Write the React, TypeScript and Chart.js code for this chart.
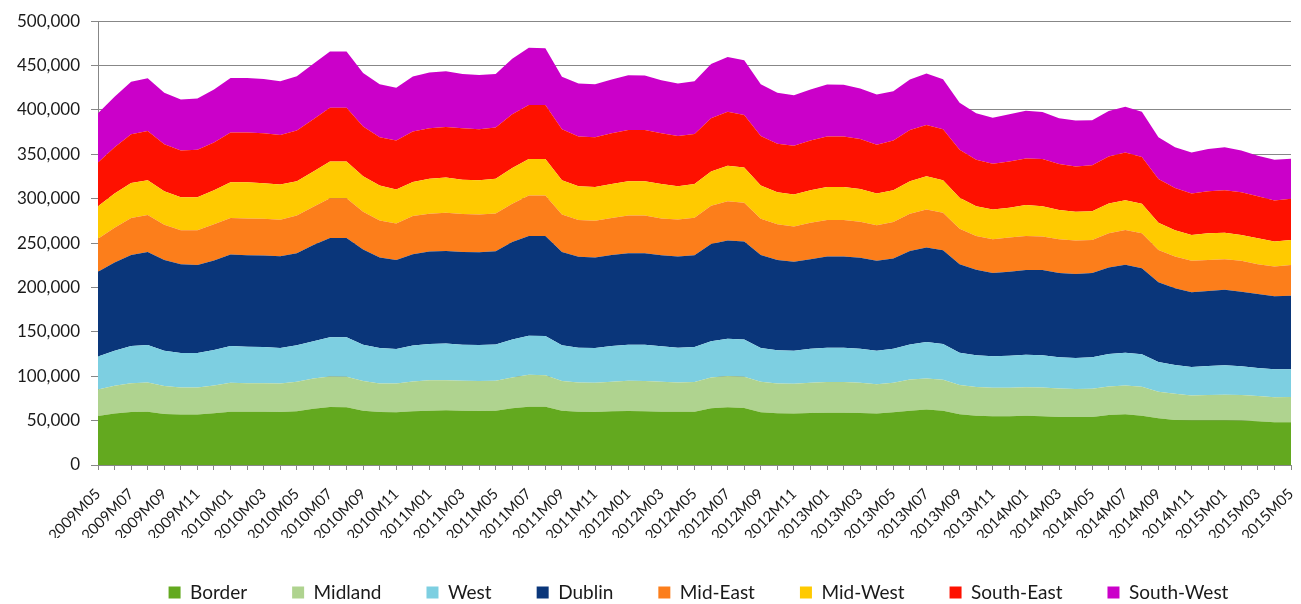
import React, { useEffect, useRef } from "react";
import { Chart, registerables } from "chart.js";

Chart.register(...registerables);

const months = [
  "2009M05", "2009M06", "2009M07", "2009M08", "2009M09", "2009M10", "2009M11", "2009M12",
  "2010M01", "2010M02", "2010M03", "2010M04", "2010M05", "2010M06", "2010M07", "2010M08", "2010M09", "2010M10", "2010M11", "2010M12",
  "2011M01", "2011M02", "2011M03", "2011M04", "2011M05", "2011M06", "2011M07", "2011M08", "2011M09", "2011M10", "2011M11", "2011M12",
  "2012M01", "2012M02", "2012M03", "2012M04", "2012M05", "2012M06", "2012M07", "2012M08", "2012M09", "2012M10", "2012M11", "2012M12",
  "2013M01", "2013M02", "2013M03", "2013M04", "2013M05", "2013M06", "2013M07", "2013M08", "2013M09", "2013M10", "2013M11", "2013M12",
  "2014M01", "2014M02", "2014M03", "2014M04", "2014M05", "2014M06", "2014M07", "2014M08", "2014M09", "2014M10", "2014M11", "2014M12",
  "2015M01", "2015M02", "2015M03", "2015M04", "2015M05",
];

const border = [55300, 57900, 59700, 60100, 57500, 56800, 56800, 58300, 60100, 60100, 60100, 59700, 60500, 63500, 65300, 65000, 61200, 59700, 59400, 60600, 61200, 61600, 61200, 60900, 61200, 63900, 65700, 65700, 61200, 60100, 59700, 60500, 60900, 60500, 60100, 60100, 60100, 63900, 65000, 64300, 59400, 58300, 57900, 58600, 59000, 59000, 58600, 57900, 59400, 61200, 62400, 61200, 57100, 55600, 54900, 54900, 55400, 54900, 54100, 54100, 54100, 56400, 57100, 55600, 52700, 50800, 50400, 50400, 50400, 50000, 49300, 48200, 48200];

const midland = [29800, 31300, 32500, 32900, 31400, 30600, 30600, 31300, 32500, 32100, 32100, 32200, 33200, 34000, 34400, 34300, 33300, 32200, 32500, 33500, 34400, 34000, 33600, 33600, 33600, 34700, 35900, 35500, 33300, 32900, 32900, 33200, 33900, 34000, 33600, 32900, 33300, 34700, 35400, 35000, 34300, 33600, 33600, 34000, 34400, 34400, 34000, 33200, 33200, 35100, 35100, 34800, 32900, 32200, 32100, 32100, 32200, 32500, 32200, 31400, 31800, 32100, 32500, 32500, 29800, 29500, 28000, 28400, 28800, 28800, 28400, 28000, 28300];

const west = [37000, 39600, 41900, 42200, 39900, 38800, 38800, 40000, 41500, 41100, 40700, 39900, 41100, 41800, 44100, 44500, 41000, 39900, 38800, 40500, 40700, 41400, 40700, 40700, 41100, 42900, 44000, 44100, 40300, 39200, 39200, 40400, 40700, 41000, 40000, 39200, 39500, 40900, 41900, 42200, 38100, 37300, 37300, 38500, 38800, 38800, 38500, 37700, 38500, 39600, 41000, 40300, 36600, 35800, 35500, 36000, 36700, 36200, 35100, 35100, 35500, 36600, 37000, 36600, 33600, 32500, 32100, 32800, 33200, 32500, 31700, 31700, 31400];

const dublin = [95600, 99400, 102600, 104900, 102300, 100100, 99000, 100800, 103000, 103100, 103100, 103400, 103800, 108600, 112000, 112000, 107200, 102000, 100400, 102900, 104200, 104200, 104600, 104500, 105000, 109800, 112400, 112700, 105300, 102300, 102000, 102600, 103100, 103100, 102700, 102700, 103500, 109500, 110700, 110200, 104900, 101900, 100100, 100800, 102700, 102700, 102300, 101200, 101500, 105300, 106500, 105700, 99700, 96300, 93700, 94700, 95300, 96000, 94800, 94500, 94800, 97500, 99000, 97100, 89700, 86200, 84000, 84400, 85100, 84000, 83300, 82200, 82900];

const midEast = [37300, 39200, 41500, 41500, 39600, 38100, 39200, 40700, 41100, 41400, 41500, 41100, 42600, 43000, 44800, 44800, 42600, 41800, 41100, 42900, 42500, 43000, 42600, 42600, 42500, 43000, 45600, 45600, 42200, 41400, 41400, 41500, 42600, 42600, 41400, 41800, 42200, 43200, 44200, 43700, 40800, 40000, 39900, 41000, 41000, 41000, 40700, 40000, 41100, 41800, 42900, 42200, 39900, 38100, 38100, 38500, 38400, 37700, 38100, 37700, 37300, 38400, 39100, 39200, 36500, 35900, 35500, 35100, 34400, 34700, 33600, 33600, 34400];

const midWest = [36600, 38400, 39600, 39200, 37700, 37300, 37300, 38500, 40300, 40700, 39900, 39600, 38400, 39900, 41400, 41400, 39900, 39200, 38100, 38500, 39600, 39600, 38800, 38500, 39200, 40300, 41100, 41100, 38500, 38100, 38100, 38500, 38400, 38400, 38900, 37300, 38100, 38600, 40000, 39900, 37300, 36200, 35900, 36700, 37400, 37400, 36900, 35800, 35900, 36600, 37300, 36600, 34800, 33600, 33600, 33600, 34800, 34300, 32900, 32500, 32500, 33600, 33700, 33300, 30600, 29500, 29100, 29900, 29900, 29100, 29100, 28000, 28300];

const southEast = [49300, 52300, 54900, 55600, 53100, 52700, 53400, 53700, 56000, 56000, 56400, 56000, 57200, 58700, 60500, 60500, 56100, 54500, 55300, 56800, 56800, 57100, 57900, 57500, 57500, 60500, 60800, 60800, 57500, 56100, 56000, 57100, 57900, 57900, 57100, 56800, 56300, 59800, 60700, 59000, 56000, 54500, 54900, 56000, 56800, 56800, 56400, 54900, 56000, 57900, 57900, 57500, 54100, 52300, 51500, 52200, 52600, 53100, 51900, 51100, 51600, 53000, 53700, 52600, 49400, 47800, 46700, 47400, 47800, 48200, 47400, 46200, 46400];

const southWest = [55300, 56800, 59000, 59400, 57800, 57500, 57900, 59800, 61600, 61600, 61200, 60500, 61200, 62700, 63500, 63500, 60400, 59700, 59300, 61900, 62700, 62700, 61200, 61200, 60500, 62700, 64600, 63900, 59000, 59700, 59800, 60500, 61600, 61200, 59700, 59000, 59400, 61200, 61800, 61700, 58300, 57500, 57100, 57500, 58600, 58200, 56800, 56800, 55600, 56800, 57900, 56300, 53000, 52300, 51900, 53100, 53800, 53000, 51500, 51600, 50700, 51200, 51600, 51200, 47000, 45900, 46300, 47500, 48500, 47100, 45600, 46000, 45100];

const seriesNames = ["Border", "Midland", "West", "Dublin", "Mid-East", "Mid-West", "South-East", "South-West"];
const seriesColors = ["#63A91F", "#AFD38F", "#7DCFE1", "#0A367A", "#FC7E1B", "#FFCA00", "#FE1100", "#CB00C9"];

const yMax = 500000;
const yStep = 50000;

const TEXT = "#1a1a1a";
const GRID = "#878787";
const FONT = "Lato";

const legendShift = {
  id: "legendShift",
  afterLayout(chart: any) {
    const l = chart.legend;
    if (l) {
      l.left += 4;
      l.right += 4;
    }
  },
};

export default function App() {
  const ref = useRef<HTMLCanvasElement>(null);

  useEffect(() => {
    const canvas = ref.current;
    if (!canvas) return;
    const values = [border, midland, west, dublin, midEast, midWest, southEast, southWest];
    const chart = new Chart(canvas, {
      type: "line",
      data: {
        labels: months,
        datasets: values.map((v, i) => ({
          label: seriesNames[i],
          data: v,
          backgroundColor: seriesColors[i],
          borderColor: seriesColors[i],
          borderWidth: 0,
          pointRadius: 0,
          pointHoverRadius: 0,
          tension: 0,
          fill: i === 0 ? "origin" : "-1",
        })),
      },
      plugins: [legendShift],
      options: {
        responsive: false,
        animation: false,
        events: [],
        layout: { padding: { top: 17.3, right: 10, left: 0, bottom: 0 } },
        plugins: {
          legend: {
            position: "bottom",
            fullSize: false,
            labels: {
              boxWidth: 12,
              boxHeight: 12,
              padding: 45,
              color: TEXT,
              font: { family: FONT, size: 19 },
            },
          },
          tooltip: { enabled: false },
        },
        scales: {
          x: {
            offset: false,
            grid: { display: true, drawOnChartArea: false, drawTicks: true, tickLength: 5, color: GRID },
            border: { display: true, color: GRID },
            ticks: {
              autoSkip: false,
              maxRotation: 45,
              minRotation: 45,
              padding: 15,
              color: TEXT,
              font: { family: FONT, size: 15 },
              callback: (_v: any, i: number) => (i % 2 === 0 ? months[i] : ""),
            },
            afterFit: (s: any) => {
              s.height = 73;
              s.paddingLeft = 0;
              s.paddingRight = 0;
            },
          },
          y: {
            stacked: true,
            min: 0,
            max: yMax,
            grid: { color: GRID, tickLength: 7 },
            border: { display: true, color: GRID },
            ticks: {
              stepSize: yStep,
              padding: 11,
              color: TEXT,
              font: { family: FONT, size: 17 },
              callback: (v: any) => Number(v).toLocaleString("en-US"),
            },
            afterFit: (s: any) => {
              s.width = 98;
            },
          },
        },
      },
    });
    return () => chart.destroy();
  }, []);

  return (
    <div
      style={{
        position: "fixed",
        left: 0,
        top: 0,
        width: 1301,
        height: 604,
        overflow: "hidden",
        background: "#ffffff",
      }}
    >
      <canvas ref={ref} width={1301} height={612} style={{ display: "block" }} />
    </div>
  );
}
